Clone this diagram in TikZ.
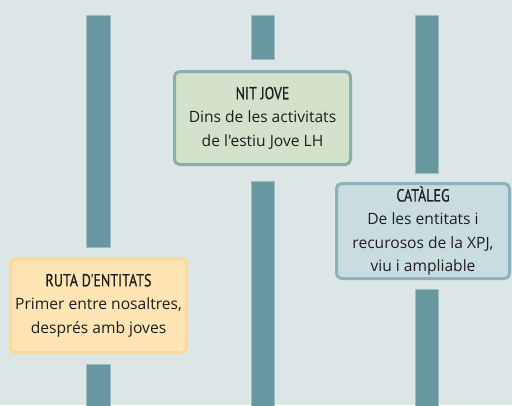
\documentclass[tikz,border=0pt]{standalone}
\usepackage{fontspec}
\setmainfont{Open Sans}[Ligatures=TeXOff]
\newfontfamily\titlefont{PT Sans}[FakeStretch=0.8,FakeBold=0.6,Ligatures=TeXOff]
\definecolor{bg}{HTML}{DCE6E7}
\definecolor{bar}{HTML}{6897A0}
\definecolor{barline}{HTML}{9DBDC2}
\definecolor{orfill}{HTML}{FFE4B4}
\definecolor{ordraw}{HTML}{FFD898}
\definecolor{grfill}{HTML}{D4E2CB}
\definecolor{grdraw}{HTML}{8AADAD}
\definecolor{blfill}{HTML}{C9DDE1}
\definecolor{bldraw}{HTML}{8FB1B9}
\definecolor{txt}{HTML}{1E1E1E}
\begin{document}
\begin{tikzpicture}[x=1pt,y=-1pt,
  barseg/.style={fill=bar,draw=barline,line width=0.8pt},
  card/.style={rounded corners=5pt,line width=3pt,inner sep=0pt,align=center,
    text=txt,font=\fontsize{15.6}{23.5}\selectfont},
  ttl/.style={font=\titlefont\fontsize{17.5}{23.5}\selectfont}]
\fill[bg] (0,0) rectangle (512,405);
\useasboundingbox (0,0) rectangle (512,405);
% bars
\draw[barseg] (86.5,15) rectangle (110,247);
\draw[barseg] (86.5,364) rectangle (110,406);
\draw[barseg] (251,15) rectangle (274.5,59);
\draw[barseg] (251,181) rectangle (274.5,406);
\draw[barseg] (415,15) rectangle (438.5,173);
\draw[barseg] (415,289) rectangle (438.5,406);
% cards
\node[card,fill=orfill,draw=ordraw,minimum width=176pt,minimum height=94pt] (ruta) at (98.5,305.5)
  {{\titlefont\fontsize{17.5}{23.5}\selectfont RUTA D'ENTITATS}\\Primer entre nosaltres,\\després amb joves};
\node[card,fill=grfill,draw=grdraw,minimum width=176pt,minimum height=93pt] (nit) at (262.5,118)
  {{\titlefont\fontsize{17.5}{23.5}\selectfont NIT JOVE}\\Dins de les activitats\\de l'estiu Jove LH};
\node[card,fill=blfill,draw=bldraw,minimum width=173pt,minimum height=95pt] (cat) at (423,231)
  {{\titlefont\fontsize{17.5}{23.5}\selectfont CATÀLEG}\\De les entitats i\\recurosos de la XPJ,\\viu i ampliable};
\end{tikzpicture}
\end{document}
